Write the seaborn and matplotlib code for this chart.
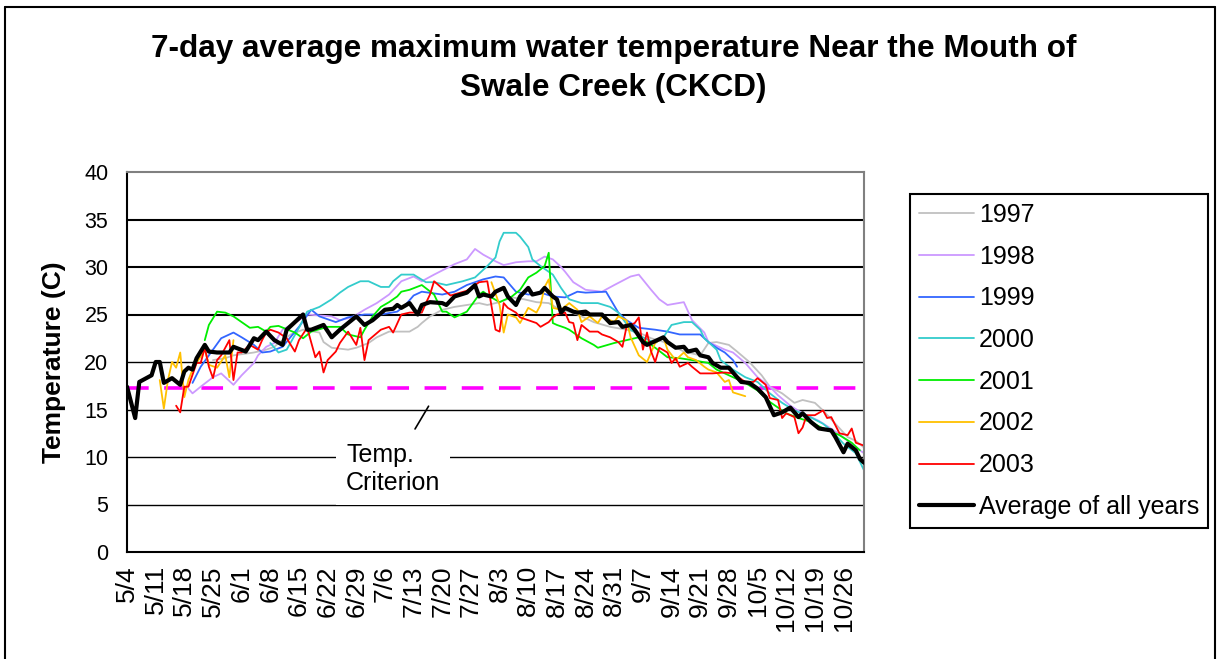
import numpy as np
import pandas as pd
import matplotlib
matplotlib.use("Agg")
import matplotlib.pyplot as plt
from matplotlib.lines import Line2D
import seaborn as sns

# days counted from 5/4 (deg C)
d1997 = [21, 24, 26, 31, 34, 36, 37, 40, 43, 47, 48, 50, 54, 56, 59, 61, 64, 69, 71, 72, 74, 77, 80, 83, 86, 88, 91, 94, 97, 100, 103, 105, 110, 114, 118, 122, 125, 128, 132, 136, 140, 142, 144, 147, 149, 152, 155, 157, 160, 163, 165, 168, 170, 173, 176, 178, 180]
t1997 = [20.2, 20.4, 20.7, 21.0, 21.3, 21.6, 22.0, 22.9, 23.4, 23.1, 22.1, 21.5, 21.3, 21.5, 22.0, 22.6, 23.2, 23.2, 23.7, 24.1, 24.8, 25.5, 25.8, 26.0, 26.2, 26.0, 26.3, 26.8, 26.6, 26.3, 26.2, 25.7, 25.0, 24.2, 23.7, 23.4, 23.1, 22.5, 22.0, 21.1, 20.7, 22.0, 22.1, 21.8, 21.1, 20.0, 18.6, 17.4, 16.7, 15.7, 16.0, 15.7, 14.9, 13.5, 12.1, 11.7, 11.0]

d1998 = [15, 16, 18, 21, 23, 26, 28, 31, 32, 34, 36, 38, 42, 44, 50, 52, 55, 58, 61, 64, 67, 70, 72, 75, 80, 83, 85, 87, 90, 92, 95, 98, 100, 102, 104, 106, 107, 109, 112, 116, 119, 123, 125, 128, 130, 132, 136, 138, 141, 142, 146, 148, 151, 154, 157, 159, 162, 165, 169, 174, 178, 180]
t1998 = [17.2, 16.7, 17.4, 18.4, 18.8, 17.6, 18.6, 19.9, 20.7, 21.6, 22.0, 23.4, 24.4, 25.0, 24.8, 24.4, 24.7, 25.5, 26.2, 27.1, 28.5, 29.0, 28.5, 29.2, 30.3, 30.8, 31.9, 31.3, 30.6, 30.2, 30.5, 30.6, 30.6, 31.1, 30.8, 30.0, 29.5, 28.4, 27.6, 27.4, 28.1, 29.0, 29.2, 27.6, 26.6, 26.0, 26.3, 24.4, 23.1, 22.1, 21.3, 21.0, 19.9, 18.4, 17.4, 16.5, 15.4, 14.6, 13.8, 12.4, 11.0, 10.4]

d1999 = [16, 18, 21, 23, 26, 28, 31, 33, 35, 38, 42, 45, 47, 51, 54, 58, 62, 66, 68, 70, 72, 77, 80, 83, 87, 90, 92, 95, 98, 101, 104, 107, 110, 112, 117, 120, 122, 125, 129, 132, 135, 140, 142, 144, 146, 148, 149]
t1999 = [17.8, 19.5, 21.3, 22.5, 23.1, 22.6, 21.8, 21.0, 21.1, 21.6, 23.7, 25.5, 24.8, 24.2, 24.7, 25.0, 25.0, 25.3, 26.0, 27.0, 27.4, 27.1, 27.4, 28.1, 28.7, 29.0, 28.9, 27.4, 27.1, 27.3, 26.9, 26.8, 27.4, 27.3, 27.4, 25.2, 24.4, 23.6, 23.4, 23.2, 22.9, 22.9, 22.1, 21.5, 21.0, 20.2, 19.5]

d2000 = [35, 37, 39, 42, 44, 47, 50, 52, 54, 57, 59, 62, 64, 65, 67, 70, 73, 75, 78, 82, 85, 88, 90, 91, 92, 95, 96, 98, 99, 101, 104, 106, 108, 111, 115, 118, 120, 123, 126, 129, 131, 133, 136, 138, 140, 141, 144, 145, 148, 151, 154, 157, 160, 163, 166, 170, 172, 175, 178, 180]
t2000 = [22.0, 21.0, 21.3, 23.6, 25.3, 25.8, 26.6, 27.3, 27.9, 28.5, 28.5, 27.9, 27.9, 28.5, 29.2, 29.2, 28.4, 28.4, 28.1, 28.5, 28.9, 30.1, 31.0, 32.7, 33.6, 33.6, 33.2, 32.1, 30.8, 30.1, 29.2, 27.8, 26.6, 26.2, 26.2, 25.8, 25.2, 23.4, 22.6, 22.0, 22.6, 23.9, 24.2, 24.2, 23.4, 22.5, 21.3, 20.2, 19.2, 18.4, 17.9, 16.7, 15.7, 14.9, 14.4, 13.5, 12.8, 11.4, 10.4, 8.6]

d2001 = [19, 20, 22, 24, 26, 28, 30, 32, 34, 35, 37, 41, 43, 45, 49, 52, 54, 57, 58, 60, 62, 64, 66, 67, 69, 72, 75, 77, 78, 80, 83, 86, 87, 89, 91, 94, 96, 98, 100, 102, 103, 104, 105, 107, 108, 111, 114, 115, 119, 122, 125, 127, 129, 132, 135, 138, 142, 144, 148, 151, 154, 157, 161, 164, 167, 170, 174, 177, 179]
t2001 = [22.3, 23.9, 25.3, 25.2, 24.8, 24.2, 23.6, 23.7, 23.2, 23.7, 23.8, 23.1, 22.5, 23.2, 23.7, 23.7, 22.9, 22.6, 23.4, 24.8, 25.8, 26.3, 26.9, 27.4, 27.6, 28.1, 27.1, 25.3, 25.3, 24.7, 25.3, 27.1, 27.4, 26.8, 26.3, 26.9, 27.6, 28.9, 29.4, 30.1, 31.5, 24.1, 23.9, 23.6, 23.4, 22.5, 21.8, 21.5, 22.0, 22.3, 22.6, 22.1, 21.5, 20.5, 20.4, 20.2, 19.9, 19.2, 18.4, 17.8, 17.0, 15.8, 14.6, 14.1, 13.7, 13.0, 12.3, 11.5, 10.7]

# 2002 has a gap in the record (June - late July)
d2002_early = [8, 9, 10, 11, 12, 13, 14, 15, 16, 19, 20, 22, 24, 25, 26]
t2002_early = [18.1, 15.1, 18.1, 20.0, 19.4, 21.0, 16.3, 18.1, 19.2, 21.3, 19.7, 19.4, 20.7, 18.4, 22.3]
d2002_late = [89, 91, 92, 93, 95, 96, 98, 100, 101, 102, 103, 104, 106, 108, 110, 111, 113, 115, 116, 119, 120, 122, 123, 125, 127, 129, 131, 132, 134, 136, 137, 139, 141, 142, 144, 146, 147, 148, 151]
t2002_late = [28.4, 26.0, 23.1, 25.0, 24.7, 24.1, 25.7, 25.2, 26.0, 27.9, 28.7, 25.7, 25.5, 26.2, 25.5, 24.2, 24.8, 24.1, 24.8, 24.2, 24.8, 24.4, 22.6, 20.7, 20.0, 22.0, 22.6, 21.3, 20.2, 21.0, 20.5, 20.2, 19.5, 19.2, 18.9, 17.9, 18.1, 16.8, 16.4]

d2003 = [12, 13, 14, 15, 17, 18, 19, 20, 21, 22, 23, 25, 26, 27, 28, 30, 32, 33, 34, 35, 37, 39, 41, 42, 44, 46, 47, 48, 49, 51, 52, 54, 56, 57, 58, 59, 62, 64, 65, 67, 69, 72, 73, 74, 75, 79, 83, 86, 88, 90, 91, 92, 93, 95, 96, 98, 100, 101, 103, 104, 105, 107, 108, 109, 110, 111, 113, 115, 116, 118, 120, 121, 122, 124, 125, 126, 127, 128, 129, 130, 132, 133, 134, 135, 137, 138, 140, 143, 146, 148, 151, 153, 154, 156, 157, 159, 160, 161, 163, 164, 165, 166, 168, 170, 171, 172, 174, 176, 177, 178, 180]
t2003 = [15.4, 14.7, 17.4, 17.4, 19.9, 19.9, 21.5, 19.5, 18.3, 20.2, 20.7, 22.3, 18.1, 21.0, 21.0, 21.8, 21.3, 22.3, 23.1, 23.4, 23.1, 22.5, 21.1, 22.3, 23.6, 20.5, 21.1, 18.9, 20.2, 21.1, 22.0, 23.2, 21.8, 23.6, 20.2, 22.3, 23.4, 23.7, 23.1, 25.0, 25.2, 25.2, 26.2, 27.1, 28.5, 27.0, 27.5, 28.4, 28.5, 23.4, 23.2, 26.2, 25.7, 25.2, 24.7, 24.4, 24.1, 23.7, 24.2, 24.7, 25.0, 25.2, 24.2, 24.1, 22.3, 23.9, 23.2, 23.2, 22.9, 22.6, 22.1, 21.6, 23.7, 24.1, 24.7, 21.3, 23.1, 21.1, 20.0, 21.5, 21.0, 19.9, 20.4, 19.5, 19.9, 19.5, 18.8, 18.8, 18.9, 18.8, 17.9, 17.9, 18.3, 17.6, 16.2, 16.0, 14.1, 14.6, 14.2, 12.5, 13.1, 14.4, 14.4, 14.9, 14.1, 14.2, 12.5, 12.3, 13.0, 11.5, 11.2]

d_avg = [0, 2, 3, 6, 7, 8, 9, 11, 13, 14, 15, 16, 17, 19, 20, 22, 25, 26, 29, 31, 32, 34, 36, 38, 39, 41, 43, 44, 45, 48, 50, 52, 54, 56, 58, 60, 63, 65, 66, 67, 69, 71, 72, 74, 77, 78, 80, 83, 85, 86, 87, 89, 90, 92, 93, 95, 96, 98, 99, 101, 102, 104, 105, 106, 107, 109, 110, 112, 113, 116, 118, 120, 121, 123, 124, 126, 127, 131, 132, 134, 136, 137, 139, 140, 142, 143, 145, 147, 149, 150, 152, 154, 156, 158, 160, 162, 164, 165, 167, 169, 172, 173, 175, 176, 178, 179, 180]
t_avg = [17.4, 14.1, 17.9, 18.6, 20.0, 20.0, 17.8, 18.3, 17.6, 19.0, 19.4, 19.2, 20.4, 21.8, 21.1, 21.0, 21.0, 21.6, 21.1, 22.5, 22.3, 23.2, 22.3, 21.8, 23.4, 24.2, 25.0, 23.4, 23.4, 23.9, 22.6, 23.4, 24.1, 24.8, 23.9, 24.4, 25.5, 25.6, 26.0, 25.7, 26.2, 25.0, 26.0, 26.3, 26.2, 26.0, 26.9, 27.3, 28.1, 26.9, 27.1, 26.9, 27.4, 27.8, 26.9, 26.0, 26.9, 27.8, 27.1, 27.3, 27.8, 26.9, 26.6, 25.2, 25.7, 25.3, 25.2, 25.3, 25.0, 25.0, 24.1, 24.2, 23.7, 23.9, 23.4, 22.1, 21.8, 22.6, 22.1, 21.5, 21.6, 21.1, 21.3, 20.7, 20.5, 19.9, 19.4, 19.4, 18.4, 17.9, 17.8, 17.2, 16.3, 14.4, 14.7, 15.2, 14.2, 14.6, 13.7, 13.0, 12.8, 12.1, 10.5, 11.4, 10.7, 9.8, 9.4]

criterion = 17.3
tick_days = list(range(0, 176, 7))
tick_labels = ["5/4", "5/11", "5/18", "5/25", "6/1", "6/8", "6/15", "6/22", "6/29", "7/6", "7/13",
               "7/20", "7/27", "8/3", "8/10", "8/17", "8/24", "8/31", "9/7", "9/14", "9/21", "9/28",
               "10/5", "10/12", "10/19", "10/26"]

sns.set_style("white")
plt.rcParams["font.family"] = ["Liberation Sans", "DejaVu Sans"]
plt.rcParams["text.color"] = "black"
plt.rcParams["axes.labelcolor"] = "black"
plt.rcParams["xtick.color"] = "black"
plt.rcParams["ytick.color"] = "black"

fig = plt.figure(figsize=(12.2, 6.59), dpi=100)
ax = fig.add_axes([127 / 1220, 1 - 552 / 659, (864 - 127) / 1220, (552 - 172) / 659])

# grid lines (horizontal only, black like the Excel original)
for g in [5, 10, 15, 20]:
    ax.axhline(g, color="black", lw=1.0, zorder=0)
for g in [25, 30, 35]:
    ax.axhline(g, color="black", lw=1.5, zorder=0)

ax.axhline(criterion, color="#FF00FF", lw=2.6, dashes=(6, 4.3), zorder=1)

series = [
    ("1997", d1997, t1997, "#C0C0C0"),
    ("1998", d1998, t1998, "#CC99FF"),
    ("1999", d1999, t1999, "#3366FF"),
    ("2000", d2000, t2000, "#33CCCC"),
    ("2001", d2001, t2001, "#00EE00"),
    ("2002", d2002_early, t2002_early, "#FFC000"),
    ("2003", d2003, t2003, "#FF0000"),
]
handles = []
for name, d, t, c in series:
    sns.lineplot(x=d, y=t, color=c, lw=1.3, estimator=None, sort=False, ax=ax, zorder=2)
    if name == "2002":
        sns.lineplot(x=d2002_late, y=t2002_late, color=c, lw=1.3, estimator=None, sort=False, ax=ax, zorder=2)
    handles.append(Line2D([], [], color=c, lw=1.3, label=name))

sns.lineplot(x=d_avg, y=t_avg, color="black", lw=3.0, estimator=None, sort=False, ax=ax, zorder=3)
handles.append(Line2D([], [], color="black", lw=3.0, label="Average of all years"))

ax.set_xlim(0, 180)
ax.set_ylim(0, 40)
ax.set_yticks(range(0, 41, 5))
ax.set_xticks(tick_days)
ax.set_xticklabels(tick_labels, rotation=90)
ax.tick_params(axis="both", direction="out", length=6.5, width=1.3, color="black")
ax.tick_params(axis="y", labelsize=15.5, pad=7)
ax.tick_params(axis="x", labelsize=19, pad=3)
ax.set_ylabel("Temperature (C)", fontsize=19, fontweight="bold", labelpad=13)
ax.set_xlabel("")

for s in ["left", "bottom"]:
    ax.spines[s].set_color("black")
    ax.spines[s].set_linewidth(1.5)
for s in ["top", "right"]:
    ax.spines[s].set_color("#808080")
    ax.spines[s].set_linewidth(1.5)

# criterion label
ax.text(53.5, 8.7, "Temp.\nCriterion", fontsize=18, ha="left", va="center", linespacing=1.2,
        bbox=dict(facecolor="white", edgecolor="none", pad=7), zorder=4)
ax.annotate("", xy=(74, 15.6), xytext=(70, 12.7),
            arrowprops=dict(arrowstyle="-", color="black", lw=1.2), zorder=4)

fig.suptitle("7-day average maximum water temperature Near the Mouth of\nSwale Creek (CKCD)",
             x=0.503, y=0.948, fontsize=22.7, fontweight="bold", linespacing=1.38)

leg = ax.legend(handles=handles, loc="upper left", bbox_to_anchor=(910 / 1220, 1 - 194 / 659),
                bbox_transform=fig.transFigure, borderaxespad=0, fontsize=18, frameon=True,
                fancybox=False, handlelength=2.2, handletextpad=0.2, labelspacing=0.71,
                borderpad=0.35, framealpha=1)
leg.get_frame().set_edgecolor("black")
leg.get_frame().set_linewidth(1.5)

# outer border of the chart object
for xs, ys in [([5, 5], [0, 652]), ([5, 1215], [652, 652]), ([1215, 1215], [652, 0])]:
    fig.add_artist(Line2D([x / 1220 for x in xs], [y / 659 for y in ys], color="black", lw=1.5,
                          transform=fig.transFigure))

fig.savefig("out.png", dpi=100)
